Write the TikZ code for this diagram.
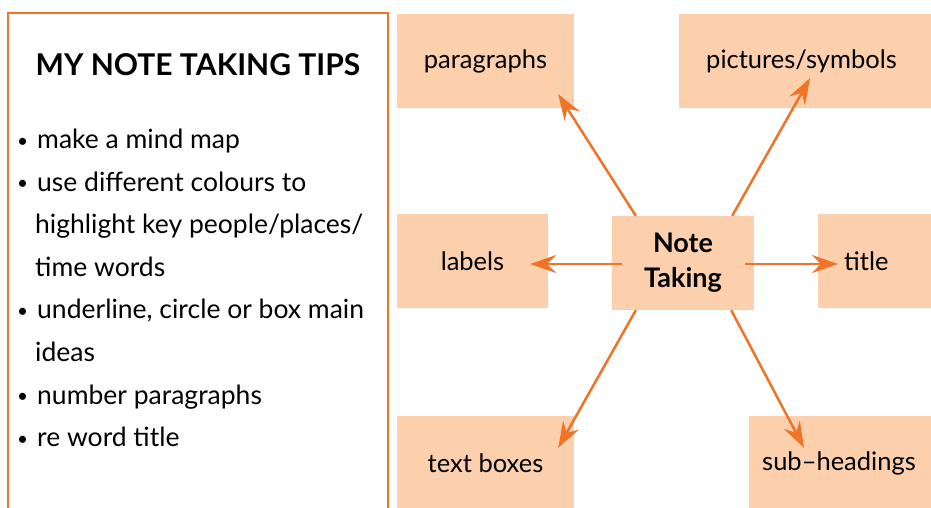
\documentclass[tikz,border=0pt]{standalone}
\usepackage{fontspec}
\setmainfont{Lato}
\usetikzlibrary{arrows.meta}
\definecolor{tiporange}{HTML}{F07427}
\definecolor{tippeach}{HTML}{FCCFAD}
\newcommand{\tipbullet}{\makebox[21pt][l]{\hspace{1pt}\raisebox{1.5pt}{\fontsize{19}{20}\selectfont\textbullet}}}
\tikzset{
  idea/.style={fill=tippeach, minimum height=94pt, inner sep=0pt,
    font=\fontsize{25.5}{30}\selectfont},
  cutidea/.style={idea, anchor=west, text width=260pt, align=left},
  link/.style={tiporange, line width=2.5pt,
    -{Stealth[length=26pt,width=18pt,inset=9pt]}}
}
\begin{document}
\begin{tikzpicture}[x=1pt,y=-1pt]
  \useasboundingbox (0,0) rectangle (931,507);
  \clip (0,0) rectangle (931,507);
  \draw[tiporange, line width=2pt] (8,13) rectangle (388,540);
  \draw
    (198,65) node[font=\bfseries\fontsize{30}{34}\selectfont] (head){MY NOTE TAKING TIPS}
    (16,446.7) node[anchor=base west, align=left, inner sep=0pt,
      font=\fontsize{26.5}{42.6}\selectfont] (tips){%
      \tipbullet make a mind map\\
      \tipbullet use different colours to\\
      \hspace*{19pt}highlight key people/places/\\
      \hspace*{19pt}time words\\
      \tipbullet underline, circle or box main\\
      \hspace*{19pt}ideas\\
      \tipbullet number paragraphs\\
      \tipbullet re word title}
    (485.5,61) node[idea, minimum width=177pt] (para){paragraphs}
    (679,61) node[cutidea, inner xsep=27pt] (pics){pictures/symbols}
    (472.5,261) node[idea, minimum width=151pt] (labels){labels}
    (683,263) node[idea, minimum width=142pt, align=center,
      font=\bfseries\fontsize{27}{35}\selectfont] (note){Note\\Taking}
    (818,261) node[cutidea, inner xsep=26pt] (title){title}
    (485.5,463) node[idea, minimum width=177pt] (textb){text boxes}
    (749,463) node[cutidea, inner xsep=13pt] (subh){sub--headings};
  \begin{scope}[link]
    \draw ([xshift=24pt]note.north west) to ([xshift=-16pt,yshift=14pt]para.south east);
    \draw ([xshift=-22pt]note.north east) to ([xshift=131pt,yshift=30pt]pics.south west);
    \draw ([xshift=10pt,yshift=-1pt]note.west) to ([xshift=-18pt,yshift=-3pt]labels.east);
    \draw ([xshift=-9pt,yshift=-1pt]note.east) to ([xshift=20pt,yshift=-3pt]title.west);
    \draw ([xshift=24pt]note.south west) to ([xshift=-16pt,yshift=-32pt]textb.north east);
    \draw ([xshift=-23pt]note.south east) to ([xshift=55pt,yshift=-32pt]subh.north west);
  \end{scope}
\end{tikzpicture}
\end{document}
